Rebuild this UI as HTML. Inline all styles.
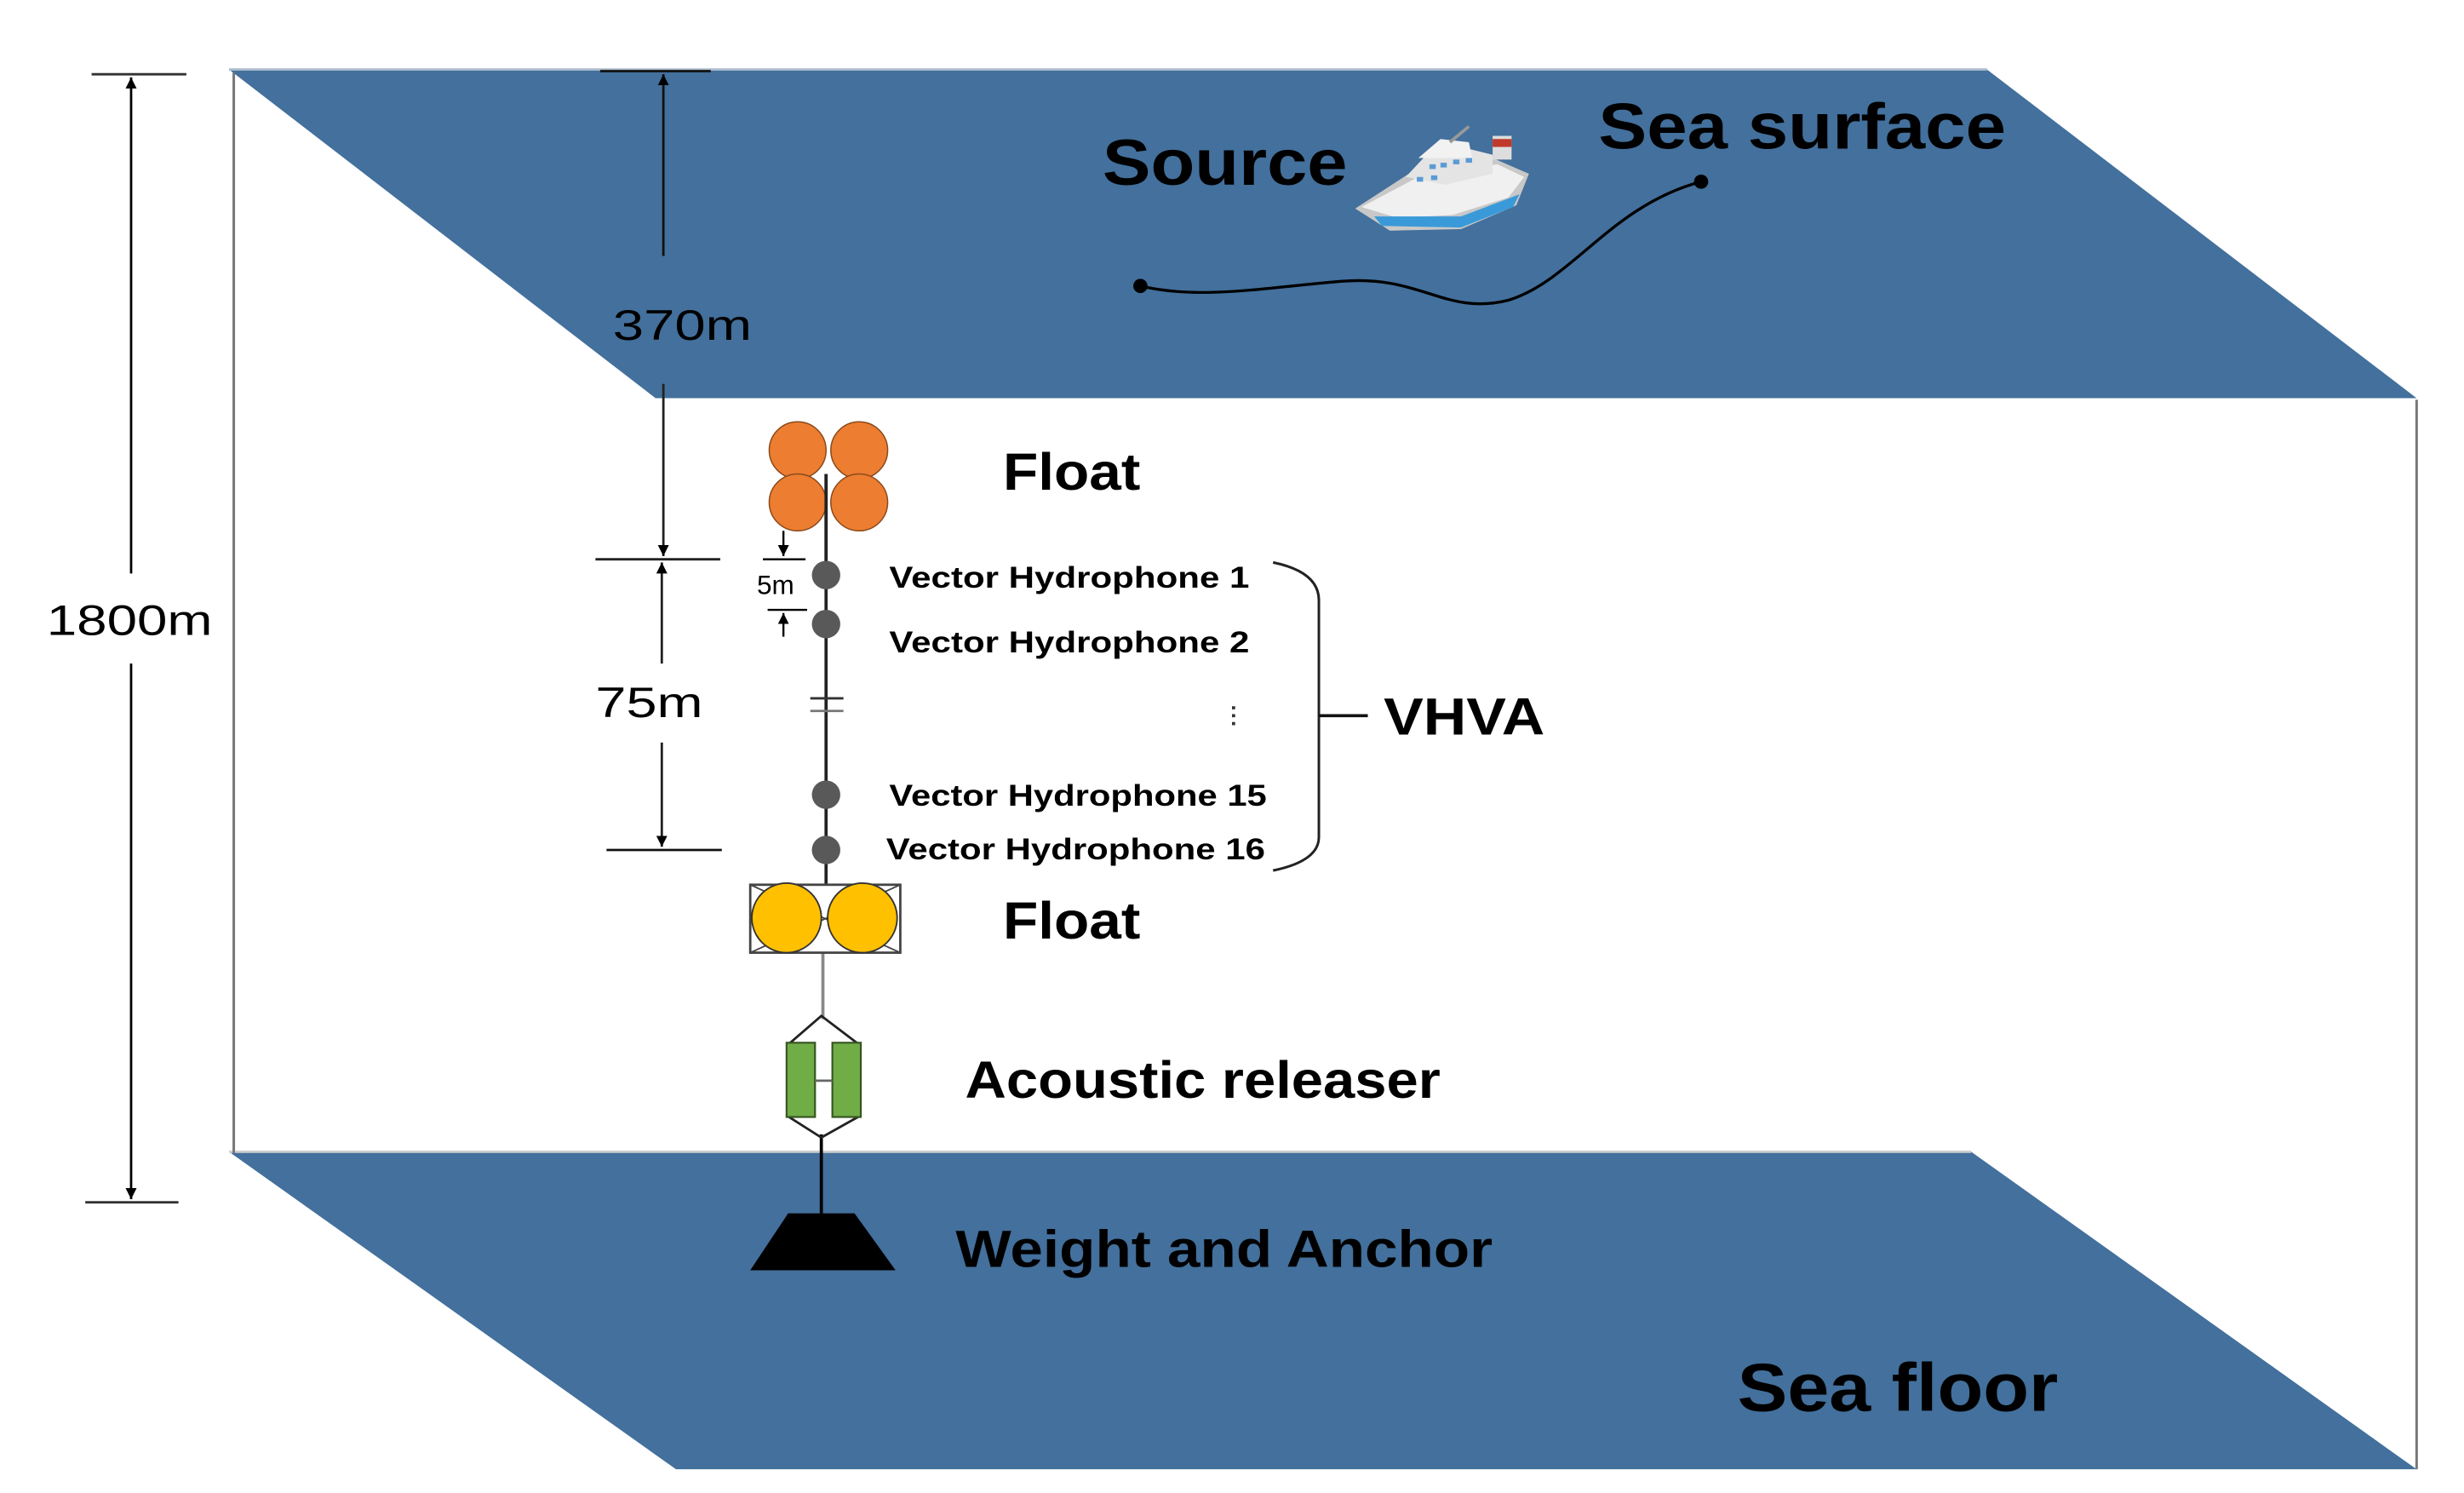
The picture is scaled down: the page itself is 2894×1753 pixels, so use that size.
<!DOCTYPE html>
<html><head><meta charset="utf-8"><style>
html,body{margin:0;padding:0;background:#fff}
svg{display:block}
text{font-family:"Liberation Sans",sans-serif;font-weight:bold;fill:#000}
</style></head><body>
<svg width="2894" height="1753" viewBox="0 0 1560 945" preserveAspectRatio="none" xmlns="http://www.w3.org/2000/svg">
<defs>
<marker id="ar" viewBox="0 0 10 10" refX="10" refY="5" markerWidth="7" markerHeight="7" orient="auto-start-reverse" markerUnits="userSpaceOnUse"><path d="M0,0 L10,5 L0,10 z" fill="#000"/></marker>
</defs>
<!-- planes -->
<polygon points="145,44 1258,44 1530,252 415,252" fill="#43709c"/>
<polygon points="145,729 1248,729 1530,930 428,930" fill="#43709c"/>
<line x1="145" y1="44" x2="1258" y2="44" stroke="#a9b9cc" stroke-width="1.5"/>
<line x1="145" y1="729" x2="1248" y2="729" stroke="#cfcfcf" stroke-width="1.5"/>
<line x1="148" y1="46" x2="148" y2="730" stroke="#777" stroke-width="1.6"/>
<line x1="1530" y1="253" x2="1530" y2="930" stroke="#777" stroke-width="1.6"/>
<!-- 1800m dim -->
<line x1="58" y1="47" x2="118" y2="47" stroke="#333" stroke-width="1.5"/>
<line x1="54" y1="761" x2="113" y2="761" stroke="#333" stroke-width="1.5"/>
<line x1="83" y1="49" x2="83" y2="363" stroke="#000" stroke-width="1.5" marker-start="url(#ar)"/>
<line x1="83" y1="420" x2="83" y2="759" stroke="#000" stroke-width="1.5" marker-end="url(#ar)"/>
<text x="82" y="402" font-size="27" text-anchor="middle" font-weight="normal" style="font-weight:normal" textLength="105" lengthAdjust="spacingAndGlyphs">1800m</text>
<!-- 370m dim -->
<line x1="380" y1="45" x2="450" y2="45" stroke="#111" stroke-width="1.5"/>
<line x1="377" y1="354" x2="456" y2="354" stroke="#222" stroke-width="1.5"/>
<line x1="420" y1="47" x2="420" y2="162" stroke="#111" stroke-width="1.5" marker-start="url(#ar)"/>
<line x1="420" y1="243" x2="420" y2="352" stroke="#222" stroke-width="1.5" marker-end="url(#ar)"/>
<text x="432" y="215" font-size="27" text-anchor="middle" style="font-weight:normal" textLength="88" lengthAdjust="spacingAndGlyphs">370m</text>
<!-- 75m dim -->
<line x1="384" y1="538" x2="457" y2="538" stroke="#111" stroke-width="1.5"/>
<line x1="419" y1="356" x2="419" y2="420" stroke="#222" stroke-width="1.5" marker-start="url(#ar)"/>
<line x1="419" y1="470" x2="419" y2="536" stroke="#222" stroke-width="1.5" marker-end="url(#ar)"/>
<text x="411" y="454" font-size="27" text-anchor="middle" style="font-weight:normal" textLength="68" lengthAdjust="spacingAndGlyphs">75m</text>
<!-- cable -->
<line x1="523" y1="300" x2="523" y2="560" stroke="#222" stroke-width="2"/>
<line x1="521" y1="603" x2="521" y2="645" stroke="#888" stroke-width="2"/>
<line x1="520" y1="718" x2="520" y2="768" stroke="#000" stroke-width="2"/>
<!-- orange float -->
<g fill="#ed7d31" stroke="#8a4a1c" stroke-width="0.8">
<circle cx="505" cy="285" r="18"/><circle cx="544" cy="285" r="18"/>
<circle cx="505" cy="318" r="18"/><circle cx="544" cy="318" r="18"/>
</g>
<line x1="523" y1="300" x2="523" y2="360" stroke="#222" stroke-width="2"/>
<!-- 5m -->
<line x1="496" y1="336" x2="496" y2="352" stroke="#000" stroke-width="1.3" marker-end="url(#ar)"/>
<line x1="483" y1="354" x2="510" y2="354" stroke="#000" stroke-width="1.3"/>
<line x1="486" y1="386" x2="511" y2="386" stroke="#000" stroke-width="1.3"/>
<line x1="496" y1="403" x2="496" y2="388" stroke="#000" stroke-width="1.3" marker-end="url(#ar)"/>
<text x="491" y="376" font-size="17" text-anchor="middle" style="font-weight:normal">5m</text>
<!-- hydrophones -->
<g fill="#595959">
<circle cx="523" cy="364" r="9"/><circle cx="523" cy="395" r="9"/>
<circle cx="523" cy="503" r="9"/><circle cx="523" cy="538" r="9"/>
</g>
<line x1="513" y1="442" x2="534" y2="442" stroke="#333" stroke-width="1.5"/>
<line x1="513" y1="450" x2="534" y2="450" stroke="#777" stroke-width="1.5"/>
<text x="563" y="372" font-size="19" textLength="228" lengthAdjust="spacingAndGlyphs">Vector Hydrophone 1</text>
<text x="563" y="413" font-size="19" textLength="228" lengthAdjust="spacingAndGlyphs">Vector Hydrophone 2</text>
<text x="563" y="510" font-size="19" textLength="239" lengthAdjust="spacingAndGlyphs">Vector Hydrophone 15</text>
<text x="561" y="544" font-size="19" textLength="240" lengthAdjust="spacingAndGlyphs">Vector Hydrophone 16</text>
<g fill="#333"><rect x="780" y="447" width="2" height="2"/><rect x="780" y="452" width="2" height="2"/><rect x="780" y="457" width="2" height="2"/></g>
<!-- brace -->
<path d="M806,356 Q835,362 835,380 L835,530 Q835,545 806,551" fill="none" stroke="#222" stroke-width="1.6"/>
<line x1="835" y1="453" x2="866" y2="453" stroke="#111" stroke-width="2"/>
<text x="876" y="465" font-size="33" textLength="102" lengthAdjust="spacingAndGlyphs">VHVA</text>
<!-- yellow float -->
<rect x="475" y="560" width="95" height="43" fill="#fff" stroke="#444" stroke-width="1.5"/>
<line x1="475" y1="560" x2="570" y2="603" stroke="#444" stroke-width="1"/>
<line x1="570" y1="560" x2="475" y2="603" stroke="#444" stroke-width="1"/>
<circle cx="498" cy="581" r="22" fill="#ffc000" stroke="#333" stroke-width="1"/>
<circle cx="546" cy="581" r="22" fill="#ffc000" stroke="#333" stroke-width="1"/>
<text x="635" y="310" font-size="33" textLength="87" lengthAdjust="spacingAndGlyphs">Float</text>
<text x="635" y="594" font-size="33" textLength="87" lengthAdjust="spacingAndGlyphs">Float</text>
<!-- releaser -->
<path d="M498,662 L520,643 L545,662 M498,706 L520,720 L545,706" fill="none" stroke="#222" stroke-width="1.5"/>
<rect x="498" y="660" width="18" height="47" fill="#70ad47" stroke="#385723" stroke-width="1.2"/>
<rect x="527" y="660" width="18" height="47" fill="#70ad47" stroke="#385723" stroke-width="1.2"/>
<line x1="516" y1="684" x2="527" y2="684" stroke="#666" stroke-width="1.5"/>
<text x="611" y="695" font-size="33" textLength="301" lengthAdjust="spacingAndGlyphs">Acoustic releaser</text>
<!-- anchor -->
<polygon points="499,768 541,768 567,804 475,804" fill="#000"/>
<text x="605" y="802" font-size="33" textLength="340" lengthAdjust="spacingAndGlyphs">Weight and Anchor</text>
<!-- surface labels -->
<text x="698" y="117" font-size="41" textLength="155" lengthAdjust="spacingAndGlyphs">Source</text>
<text x="1012" y="94" font-size="41" textLength="258" lengthAdjust="spacingAndGlyphs">Sea surface</text>
<text x="1100" y="893" font-size="43" textLength="203" lengthAdjust="spacingAndGlyphs">Sea floor</text>
<!-- track -->
<path d="M722,181 C760,190 800,182 850,178 C900,174 915,200 955,190 C995,178 1020,130 1077,115" fill="none" stroke="#000" stroke-width="1.8"/>
<circle cx="722" cy="181" r="4.5" fill="#000"/>
<circle cx="1077" cy="115" r="4.5" fill="#000"/>
<!-- ship -->
<g>
<path d="M858,132 L895,108 L945,100 L968,110 L960,130 L925,145 L880,146 Z" fill="#c8c8c8"/>
<path d="M862,131 L898,112 L948,104 L965,112 L955,125 L920,136 L885,138 Z" fill="#f0f0f0"/>
<path d="M870,137 L925,137 L962,123 L958,131 L925,144 L875,143 Z" fill="#3a9ad9"/>
<path d="M890,112 L905,96 L925,93 L945,98 L945,110 L915,117 Z" fill="#e4e4e4"/>
<path d="M898,100 L912,88 L930,90 L932,100 Z" fill="#f2f2f2"/>
<rect x="945" y="86" width="12" height="15" fill="#ddd"/>
<rect x="945" y="88" width="12" height="5" fill="#c0392b"/>
<line x1="918" y1="90" x2="930" y2="80" stroke="#999" stroke-width="2"/>
<g fill="#5b9bd5"><rect x="905" y="104" width="4" height="3"/><rect x="912" y="103" width="4" height="3"/><rect x="920" y="101" width="4" height="3"/><rect x="928" y="100" width="4" height="3"/><rect x="897" y="112" width="4" height="3"/><rect x="906" y="111" width="4" height="3"/></g>
</g>
</svg>
</body></html>
